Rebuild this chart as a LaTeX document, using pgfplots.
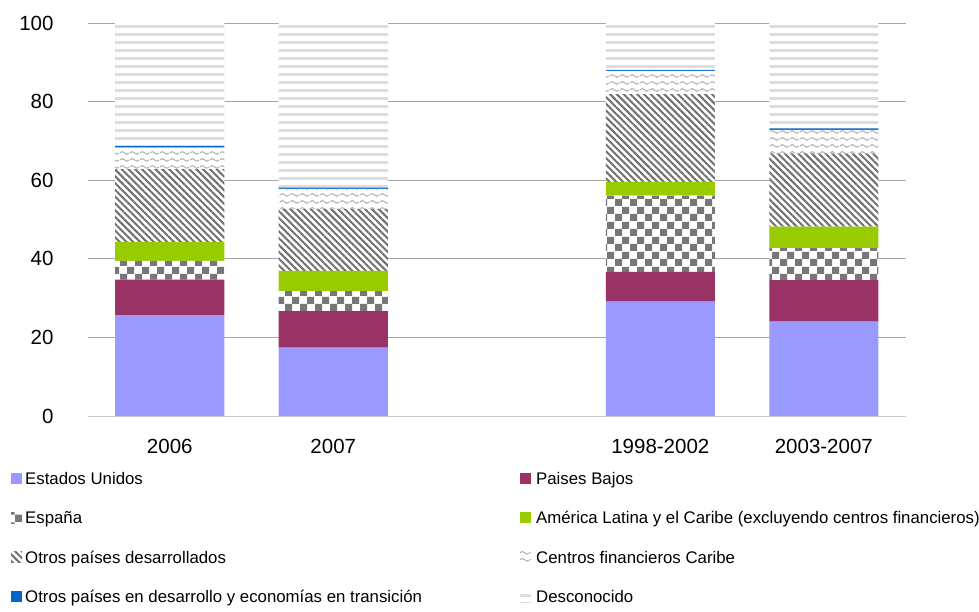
\documentclass[border=0pt]{standalone}
\usepackage{pgfplots}
\pgfplotsset{compat=1.18}
\usepackage{pgfplotstable}
\usepackage{fontspec}
\setmainfont{Liberation Sans}
\usetikzlibrary{patterns.meta}

\definecolor{cUS}{HTML}{9999FF}
\definecolor{cPB}{HTML}{993366}
\definecolor{cALC}{HTML}{99CC00}
\definecolor{cOPD}{HTML}{0066CC}
\definecolor{cChk}{HTML}{777777}
\definecolor{cDiag}{HTML}{707070}
\definecolor{cWavy}{HTML}{B0B0B0}
\definecolor{cDesc}{HTML}{DDDDDD}
\definecolor{cGrid}{HTML}{A6A6A6}

\tikzdeclarepattern{
  name=checker,
  type=uncolored,
  bounding box={(0pt,0pt) and (15pt,15pt)},
  tile size={(15pt,15pt)},
  code={\fill (0pt,0pt) rectangle (7.5pt,7.5pt); \fill (7.5pt,7.5pt) rectangle (15pt,15pt);}
}
\tikzdeclarepattern{
  name=wavy,
  type=uncolored,
  bounding box={(0pt,0pt) and (10pt,7pt)},
  tile size={(10pt,7pt)},
  code={\draw[line width=1.1pt] (0pt,3.5pt) sin (2.5pt,5pt) cos (5pt,3.5pt) sin (7.5pt,2pt) cos (10pt,3.5pt);}
}

\pgfplotstableread{
x US PB ES ALC OD CFC OPD Desc
0 25.7 9.0 4.8 4.8 18.5 5.5 0.4 31.3
1 17.4 9.3 5.1 5.1 15.8 5.1 0.3 41.9
3 29.1 7.6 19.4 3.5 22.3 5.9 0.3 11.9
4 24.0 10.6 8.1 5.5 18.6 6.0 0.4 26.8
}\data

\begin{document}
\begin{tikzpicture}
\useasboundingbox (0pt,0pt) rectangle (979pt,611pt);
\begin{axis}[
  at={(88pt,195pt)}, anchor=south west,
  scale only axis, width=817.6pt, height=393pt,
  ybar stacked, bar width=0.667,
  xmin=-0.5, xmax=4.5, ymin=0, ymax=100,
  xtick={0,1,3,4}, xticklabels={2006,2007,1998-2002,2003-2007},
  ytick={20,40,...,100},
  extra y ticks={0},
  extra y tick style={grid style={color=cGrid!60, line width=0.8pt}},
  axis line style={draw=none},
  major tick length=0pt,
  ymajorgrids, grid style={color=cGrid, line width=0.8pt},
  tick label style={font=\fontsize{20.5}{24}\selectfont},
  /pgf/number format/assume math mode=true,
  yticklabel style={xshift=-31pt},
  xticklabel style={yshift=-20pt},
  legend columns=2,
  legend cell align=left,
  legend style={at={(0,0)}, anchor=north west, xshift=-80pt, yshift=-52pt,
    draw=none, font=\fontsize{16.8}{20}\selectfont, row sep=21.5pt},
  legend image code/.code={\path[#1,draw=none] (0pt,-5pt) rectangle (11pt,6pt);},
]
\addplot[fill=cUS, draw=none] table[x=x,y=US]{\data};
\addlegendentry{\makebox[494pt][l]{\hspace{1pt}Estados Unidos}}
\addplot[fill=cPB, draw=none] table[x=x,y=PB]{\data};
\addlegendentry{\hspace{3pt}Paises Bajos}
\addplot[fill=white, draw=none, postaction={pattern=checker, pattern color=cChk}] table[x=x,y=ES]{\data};
\addlegendentry{\makebox[494pt][l]{\hspace{1pt}España}}
\addplot[fill=cALC, draw=none] table[x=x,y=ALC]{\data};
\addlegendentry{\hspace{3pt}América Latina y el Caribe (excluyendo centros financieros)}
\addplot[fill=white, draw=none, postaction={pattern={Lines[angle=-45,distance=4.8pt,line width=2pt]}, pattern color=cDiag}] table[x=x,y=OD]{\data};
\addlegendentry{\makebox[494pt][l]{\hspace{1pt}Otros países desarrollados}}
\addplot[fill=white, draw=none, postaction={pattern=wavy, pattern color=cWavy}] table[x=x,y=CFC]{\data};
\addlegendentry{\hspace{3pt}Centros financieros Caribe}
\addplot[fill=cOPD, draw=none] table[x=x,y=OPD]{\data};
\addlegendentry{\makebox[494pt][l]{\hspace{1pt}Otros países en desarrollo y economías en transición}}
\addplot[fill=white, draw=none, postaction={pattern={Lines[angle=0,distance=8pt,line width=3pt]}, pattern color=cDesc}] table[x=x,y=Desc]{\data};
\addlegendentry{\hspace{3pt}Desconocido}
\end{axis}
\end{tikzpicture}
\end{document}
